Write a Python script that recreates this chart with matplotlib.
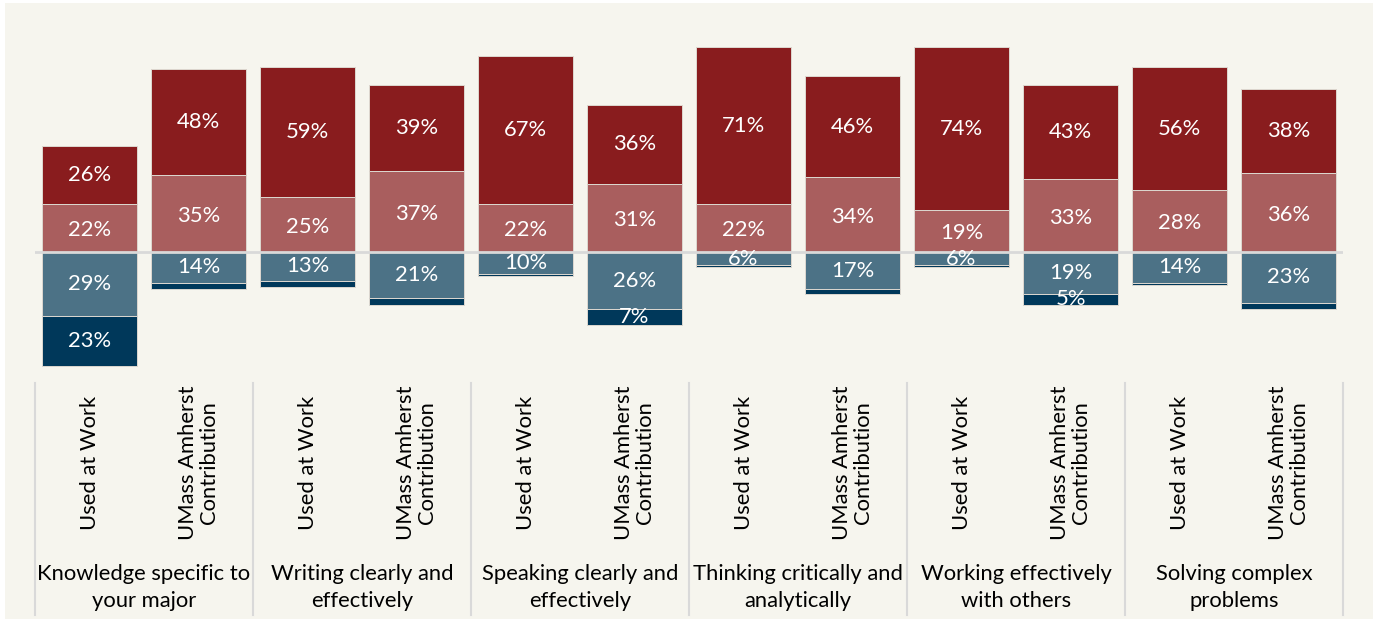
import matplotlib.pyplot as plt
from matplotlib.patches import Rectangle

# Skill groups and the two bars in each
SKILLS = ['Knowledge specific to\nyour major', 'Writing clearly and\neffectively',
          'Speaking clearly and\neffectively', 'Thinking critically and\nanalytically',
          'Working effectively\nwith others', 'Solving complex\nproblems']
BAR_LABELS = ['Used at Work', 'UMass Amherst\nContribution']

# Values per bar (work, contribution, work, contribution, ...)
VERY_MUCH = [26, 48, 59, 39, 67, 36, 71, 46, 74, 43, 56, 38]
QUITE_A_BIT = [22, 35, 25, 37, 22, 31, 22, 34, 19, 33, 28, 36]
SOME = [29, 14, 13, 21, 10, 26, 6, 17, 6, 19, 14, 23]
VERY_LITTLE = [23, 3, 3, 3, 1, 7, 1, 2, 1, 5, 1, 3]

COLORS = {'very_much': '#891C1E', 'quite': '#A95E5E', 'some': '#4C7286', 'little': '#00385A'}
BG = '#F6F5EE'
FONT = 'Lato'
FS = 15.8
W, H = 1378, 629

fig = plt.figure(figsize=(W / 100, H / 100), dpi=100)
fig.patch.set_facecolor('white')
fig.patches.append(Rectangle((5 / W, 1 - 619 / H), 1368 / W, 616 / H,
                             transform=fig.transFigure, facecolor=BG, edgecolor='none', zorder=-10))

ax = fig.add_axes([35 / W, 1 - 383 / H, 1308 / W, 343 / H])
ax.set_facecolor('none')
ax.set_xlim(-0.5, 11.5)
ax.set_ylim(-59.5, 96.4)
for s in ax.spines.values():
    s.set_visible(False)
ax.set_xticks([])
ax.set_yticks([])

x = list(range(len(VERY_MUCH)))
bw = 0.87
edge = dict(edgecolor='#DDD8D0', linewidth=0.7)

ax.bar(x, QUITE_A_BIT, bw, color=COLORS['quite'], **edge)
ax.bar(x, VERY_MUCH, bw, bottom=QUITE_A_BIT, color=COLORS['very_much'], **edge)
neg_some = [-v for v in SOME]
ax.bar(x, neg_some, bw, color=COLORS['some'], **edge)
ax.bar(x, [-v for v in VERY_LITTLE], bw, bottom=neg_some, color=COLORS['little'], **edge)

ax.axhline(0, color='#D9D9D9', linewidth=2, zorder=3)

lbl = dict(ha='center', va='center', color='white', fontsize=FS, family=FONT, zorder=4)
for i in x:
    ax.text(i, QUITE_A_BIT[i] / 2 - 1, f'{QUITE_A_BIT[i]}%', **lbl)
    ax.text(i, QUITE_A_BIT[i] + VERY_MUCH[i] / 2, f'{VERY_MUCH[i]}%', **lbl)
    ax.text(i, -SOME[i] / 2, f'{SOME[i]}%', **lbl)
    if VERY_LITTLE[i] >= 5:
        ax.text(i, -SOME[i] - VERY_LITTLE[i] / 2, f'{VERY_LITTLE[i]}%', **lbl)

# category axis below the bars
xt = ax.get_xaxis_transform()
for k in range(len(SKILLS) + 1):
    ax.plot([k * 2 - 0.5] * 2, [0, -0.676], transform=xt, color='#D9D9D9',
            linewidth=1.5, clip_on=False)
for i in x:
    ax.text(i, -0.233, BAR_LABELS[i % 2], transform=xt, rotation=90, ha='center',
            va='center', multialignment='center', fontsize=FS, family=FONT,
            color='black', linespacing=1.12)
for g, name in enumerate(SKILLS):
    ax.text(g * 2 + 0.5, -0.597, name, transform=xt, ha='center', va='center',
            fontsize=FS, family=FONT, color='black', linespacing=1.45)

fig.savefig('out.png', dpi=100, facecolor=fig.get_facecolor())
